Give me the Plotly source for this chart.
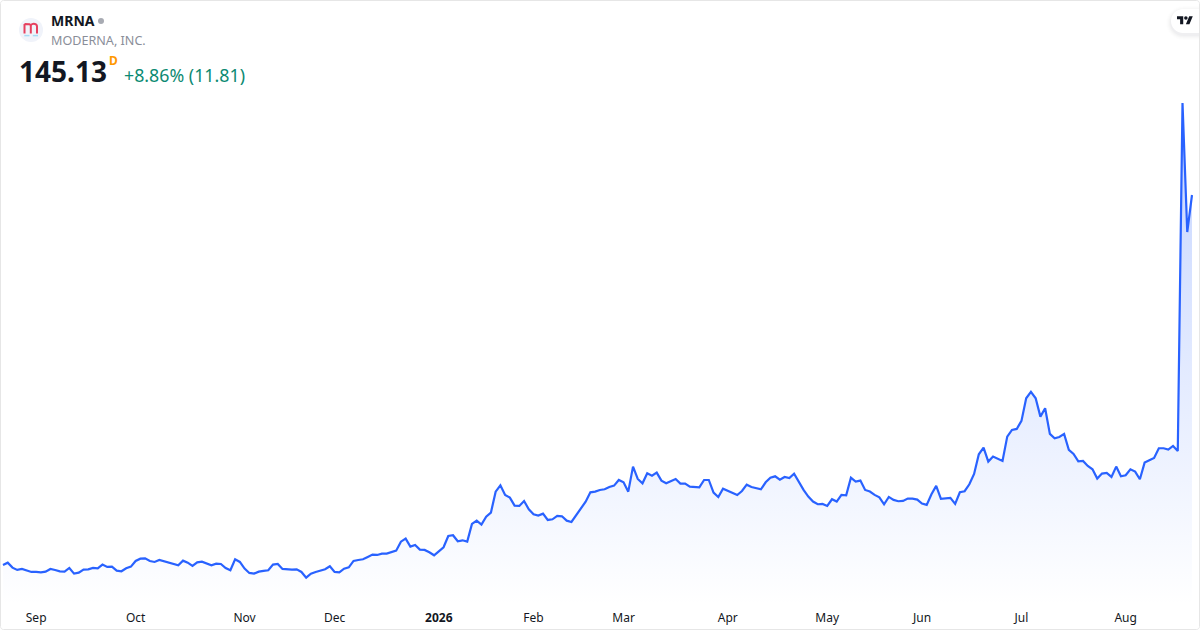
import pandas as pd
import plotly.graph_objects as go

W, H = 1200, 630
PLOT_H = 605  # "paper" coordinates are relative to the plot area, which stops above the time axis

holidays = ["2025-09-01", "2025-11-27", "2025-12-25", "2026-01-01", "2026-01-19",
            "2026-02-16", "2026-04-03", "2026-05-25", "2026-06-19", "2026-07-03"]
dates = [d.strftime("%Y-%m-%d") for d in pd.bdate_range("2025-08-21", "2026-08-21")
         if d.strftime("%Y-%m-%d") not in holidays]

close_2025 = [27.11, 27.85, 26.26, 25.52, 25.84, 25.30, 24.88, 24.88, 24.77, 24.98, 25.84, 25.52, 25.09, 24.98,
              26.15, 24.35, 24.67, 25.62, 25.73, 26.15, 26.05, 27.22, 26.47, 26.58, 25.30, 25.09, 26.05, 26.58,
              28.39, 29.13, 29.24, 28.39, 28.07, 28.70, 28.28, 27.64, 27.43, 27.00, 28.49, 27.85, 26.79, 27.96,
              28.17, 27.64, 27.00, 27.53, 27.43, 26.15, 25.41, 28.92, 28.07, 25.94, 24.56, 24.35, 24.98, 25.20,
              25.41, 27.22, 27.43, 25.84, 25.62, 25.62, 25.73, 24.88, 23.07, 24.35, 24.88, 25.41, 25.73, 26.69,
              24.88, 24.77, 25.94, 26.37, 28.39, 28.70, 28.92, 29.66, 30.41, 30.30, 30.72, 30.72, 31.26, 31.68,
              34.55]
close_mid = [35.51, 32.96, 33.49, 32.00, 31.90, 31.15, 30.20, 31.47, 32.75, 36.36, 36.58, 34.66, 34.98, 34.56,
             40.19, 41.25, 39.98, 42.53, 43.81, 50.50, 52.52, 49.44, 48.59, 46.04, 45.93, 47.53, 44.87, 43.27,
             42.85, 43.49, 41.47, 41.68, 42.74, 42.64, 41.25, 40.83, 43.06, 44.87, 47.31, 50.29, 50.50, 51.03,
             51.25, 51.99, 52.42, 54.22, 53.48, 50.50, 58.47, 54.54, 53.16, 56.35, 55.60, 56.56, 54.01, 53.16,
             53.90, 54.54, 53.05, 53.05, 52.10, 51.88, 51.88, 54.22, 54.22, 50.18, 48.80, 51.46, 50.82, 49.97,
             49.44, 50.71, 52.73, 51.99, 51.57, 51.25, 53.48, 54.97, 55.39, 54.33, 55.18, 54.86, 56.24, 53.48]
close_late = [51.05, 48.92, 47.33, 46.48, 46.59, 45.95, 48.07, 47.33, 49.46, 49.35, 54.98, 53.71, 54.03, 51.05,
              50.52, 49.46, 48.71, 46.48, 48.82, 47.86, 47.44, 47.54, 48.29, 48.29, 47.97, 46.69, 46.27, 49.67,
              52.33, 48.18, 48.39, 48.50, 46.59, 50.31, 50.63, 52.86, 56.15, 62.43, 64.55, 60.09, 61.68, 61.04,
              60.30, 68.06, 70.19, 70.50, 73.06, 80.28, 82.30, 80.28, 74.44, 77.09, 68.91, 67.53, 67.95, 68.91,
              63.81, 62.53, 60.19, 60.30, 58.70, 57.64, 54.66, 56.26, 56.47, 55.20, 58.49, 55.41, 55.73, 57.64,
              56.90, 54.45, 59.77, 60.51, 61.26, 64.34, 64.34, 63.91, 65.08, 63.49, 174.48, 133.32, 145.13]
closes = close_2025 + close_mid + close_late

tick_dates = ["2025-09-02", "2025-10-01", "2025-11-03", "2025-12-01", "2026-01-02", "2026-02-02",
              "2026-03-02", "2026-04-01", "2026-05-01", "2026-06-01", "2026-07-01", "2026-08-03"]
tick_labels = ["Sep", "Oct", "Nov", "Dec", "<b>2026</b>", "Feb", "Mar", "Apr", "May", "Jun", "Jul", "Aug"]

FONT = "Noto Sans"
INK = "#131722"


def px(x):
    return x / W


def py(y):
    return 1 - y / PLOT_H


def path(cmds):
    out = []
    for c in cmds:
        if isinstance(c, str):
            out.append(c)
        else:
            out.append(f"{px(c[0]):.5f},{py(c[1]):.5f}")
    return " ".join(out)


def rrect(x0, y0, x1, y1, r):
    k = 0.45 * r
    return path(["M", (x0 + r, y0), "L", (x1 - r, y0), "C", (x1 - k, y0), (x1, y0 + k), (x1, y0 + r),
                 "L", (x1, y1 - r), "C", (x1, y1 - k), (x1 - k, y1), (x1 - r, y1),
                 "L", (x0 + r, y1), "C", (x0 + k, y1), (x0, y1 - k), (x0, y1 - r),
                 "L", (x0, y0 + r), "C", (x0, y0 + k), (x0 + k, y0), (x0 + r, y0), "Z"])


def shape(d, fill="rgba(0,0,0,0)", line=None, lw=0):
    return dict(type="path", xref="paper", yref="paper", path=d, fillcolor=fill, layer="above",
                line=dict(color=line or "rgba(0,0,0,0)", width=lw))


def circle(cx, cy, r, fill):
    return dict(type="circle", xref="paper", yref="paper", x0=px(cx - r), x1=px(cx + r),
                y0=py(cy + r), y1=py(cy - r), fillcolor=fill, line=dict(width=0), layer="above")


def text(s, x, y, size, color, bold=False, anchor="left"):
    return dict(text=f"<b>{s}</b>" if bold else s, x=px(x), y=py(y), xref="paper", yref="paper",
                xanchor=anchor, yanchor="middle", showarrow=False, align="left",
                font=dict(family=FONT, size=size, color=color), borderpad=0, borderwidth=0)


spacing = 4.737

fig = go.Figure(go.Scatter(
    x=dates, y=closes, mode="lines", hoverinfo="skip",
    line=dict(color="#2962FF", width=2.2),
    fill="tozeroy",
    fillgradient=dict(type="vertical", start=14.3, stop=174.5,
                      colorscale=[[0, "rgba(41,98,255,0.0)"], [1, "rgba(41,98,255,0.28)"]]),
))

# pixel -> price calibration: 145.13 at y=195, 0.319 per pixel, plot bottom at y=605
y_bottom = 145.13 - 0.319 * (605 - 195)
y_top = 145.13 + 0.319 * 195

shapes = []
# logo
shapes.append(circle(31, 30, 12, "#F0F3FA"))
red = "#E6405F"
shapes.append(shape(path(["M", (24.5, 33.5), "L", (24.5, 24), "M", (30.8, 33.5), "L", (30.8, 26),
                          "C", (30.8, 24), (29.5, 24), (24.5, 24),
                          "M", (30.8, 26), "C", (30.8, 24), (33, 23.6), (35, 24),
                          "C", (36.8, 24.4), (37, 25), (37, 26.5), "L", (37, 33.5)]), line=red, lw=2))
for x0 in (24.3, 32.8):
    shapes.append(shape(path(["M", (x0, 35.6), "L", (x0 + 5.2, 35.6)]), line="#A5DCF5", lw=1.5))
# status dot
shapes.append(circle(101, 21, 3, "#A8ABB3"))
# TradingView pill with soft shadow
for grow, alpha in ((5, 0.006), (4, 0.008), (3, 0.012), (2, 0.016), (1, 0.02)):
    shapes.append(shape(rrect(1171 - grow, 9 - grow + 2, 1215, 33 + grow + 2, 12 + grow),
                        fill=f"rgba(19,23,34,{alpha})"))
shapes.append(shape(rrect(1171, 9, 1215, 33, 12), fill="#FFFFFF"))
s = 16 / 36
ox, oy = 1177.0, 14.4
lg = lambda a, b: (ox + a * s, oy + b * s)
shapes.append(shape(path(["M", lg(14, 22), "L", lg(7, 22), "L", lg(7, 11), "L", lg(0, 11), "L", lg(0, 4),
                          "L", lg(14, 4), "Z", "M", lg(28, 22), "L", lg(20, 22), "L", lg(27.5, 4),
                          "L", lg(35.5, 4), "Z"]), fill="#131722"))
shapes.append(circle(ox + 20 * s, oy + 8 * s, 4 * s, "#131722"))
# frame
shapes.append(shape(rrect(0.5, 0.5, W - 0.5, H - 0.5, 3), line="#E6E6E6", lw=1))

annotations = [
    text("MRNA", 51, 21, 14, INK, bold=True),
    text("MODERNA, INC.", 51, 41, 12.6, "#8A8E99"),
    text("145.13", 19, 71, 28, INK, bold=True),
    text("D", 109, 61, 12, "#FF9800", bold=True),
    text("+8.86% (11.81)", 124, 75, 17.8, "#0C8A72"),
]

fig.update_layout(
    width=W, height=H,
    margin=dict(l=0, r=0, t=0, b=H - PLOT_H, pad=0),
    paper_bgcolor="#FFFFFF", plot_bgcolor="#FFFFFF",
    showlegend=False, hovermode=False,
    font=dict(family=FONT, color=INK),
    shapes=shapes, annotations=annotations,
    xaxis=dict(type="category", categoryorder="array", categoryarray=dates,
               range=[-3 / spacing, -3 / spacing + W / spacing],
               tickmode="array", tickvals=tick_dates, ticktext=tick_labels,
               showgrid=False, zeroline=False, showline=False,
               ticks="", ticklen=0, ticklabelstandoff=4,
               tickangle=0, tickfont=dict(family=FONT, size=12, color=INK)),
    yaxis=dict(range=[y_bottom, y_top], visible=False, showgrid=False, zeroline=False, showline=False),
)

fig.write_html("out.html", config=dict(displayModeBar=False, responsive=False),
               post_script="document.body.style.margin='0';document.documentElement.style.overflow='hidden';")
